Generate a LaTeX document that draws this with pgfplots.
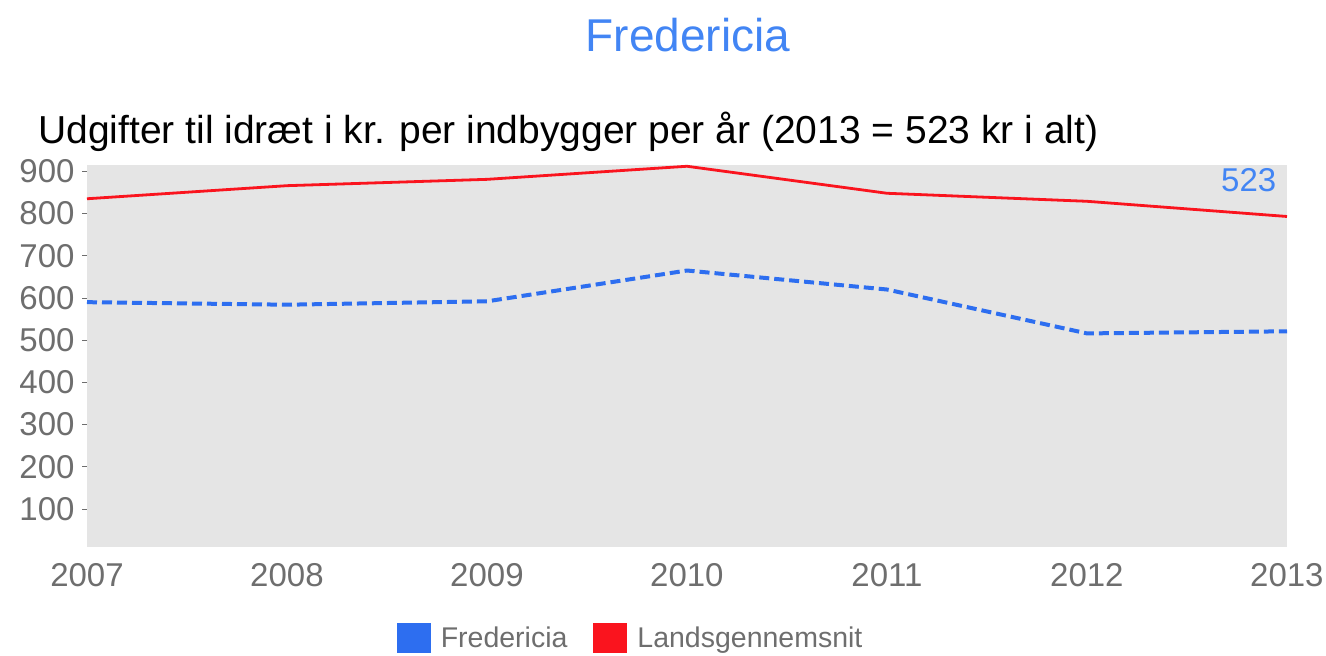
\documentclass[border=0pt]{standalone}
\usepackage{fontspec}
\setmainfont{Liberation Sans}
\usepackage{pgfplots}
\pgfplotsset{compat=1.18}
\definecolor{panel}{RGB}{229,229,229}
\definecolor{fredBlue}{RGB}{45,110,240}
\definecolor{titleBlue}{RGB}{66,133,244}
\definecolor{landRed}{RGB}{250,20,30}
\definecolor{tickGray}{RGB}{110,110,110}

\begin{document}
\begin{tikzpicture}
\useasboundingbox (-87pt,-109pt) rectangle (1239pt,547pt);
\begin{axis}[
  at={(0,0)}, anchor=south west,
  scale only axis,
  width=1200pt, height=382pt,
  xmin=2007, xmax=2013,
  ymin=10, ymax=915,
  axis background/.style={fill=panel},
  axis line style={draw=none},
  xtick={2007,...,2013},
  ytick={100,200,...,900},
  ytick pos=left,
  x tick label style={/pgf/number format/1000 sep={}},
  /pgf/number format/assume math mode=true,
  tick label style={font=\fontsize{33}{36}\selectfont, text=tickGray},
  xtick style={draw=none},
  ytick style={draw=tickGray, line width=0.8pt},
  tick align=outside,
  major tick length=5pt,
  xticklabel style={yshift=-8pt},
  yticklabel style={xshift=-4pt},
  legend style={at={(0.453,-0.238)}, anchor=center, draw=none, fill=none,
    font=\fontsize{28.5}{32}\selectfont\color{tickGray}, legend columns=2,
    /tikz/every odd column/.append style={column sep=8pt},
    /tikz/every even column/.append style={column sep=24pt}},
  legend image code/.code={\fill[#1, draw=none] (0pt,-15pt) rectangle (34pt,15pt);},
]
\addplot[fredBlue, line width=4pt, dash pattern=on 10pt off 5pt] coordinates {
  (2007,590) (2008,584) (2009,592) (2010,665) (2011,620) (2012,516) (2013,521)
};
\addlegendentry{Fredericia}
\addplot[landRed, line width=2.8pt] coordinates {
  (2007,835) (2008,866) (2009,881) (2010,912) (2011,848) (2012,829) (2013,793)
};
\addlegendentry{Landsgennemsnit}
\node[anchor=east, text=titleBlue, font=\fontsize{33}{36}\selectfont] at (rel axis cs:0.994,0.96) {523};
\end{axis}
\node[anchor=base, text=titleBlue, font=\fontsize{46}{50}\selectfont] at (601pt,495pt) {Fredericia};
\node[anchor=base west, inner sep=0pt, font=\fontsize{39}{42}\selectfont] at (-49pt,403pt) {Udgifter til idræt i kr. per indbygger per år (2013 = 523 kr i alt)};
\end{tikzpicture}
\end{document}
